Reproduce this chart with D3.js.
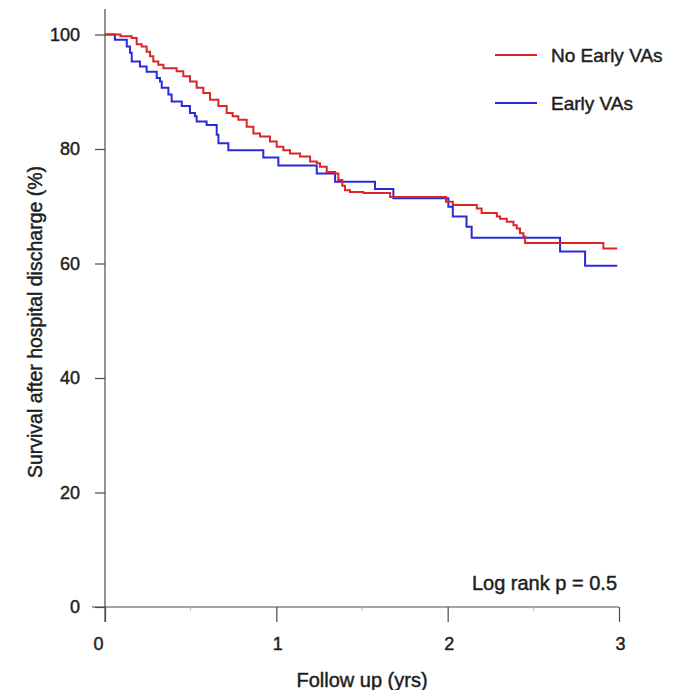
<!DOCTYPE html>
<html>
<head>
<meta charset="utf-8">
<script src="https://cdn.jsdelivr.net/npm/d3@7"></script>
<style>
  body { margin: 0; background: #fff; }
  svg text { font-family: "Liberation Sans", Arial, sans-serif; fill: #1e1e1e; stroke: #1e1e1e; stroke-width: 0.45px; }
</style>
</head>
<body>
<svg width="685" height="690"></svg>
<script>
// Kaplan-Meier steps (time in years, survival in %)
const timesNoEarly = [0, 0.09, 0.156, 0.185, 0.214, 0.243, 0.263, 0.282, 0.311, 0.341, 0.418, 0.457, 0.496, 0.535, 0.574, 0.613, 0.662, 0.710, 0.745, 0.778, 0.827, 0.866, 0.905, 0.963, 1.002, 1.041, 1.080, 1.138, 1.197, 1.236, 1.255, 1.294, 1.343, 1.362, 1.385, 1.401, 1.430, 1.508, 1.664, 1.99, 2.03, 2.17, 2.198, 2.287, 2.306, 2.345, 2.384, 2.403, 2.422, 2.442, 2.452, 2.909, 2.99]
const survNoEarly = [100, 99.7, 99.4, 98.3, 97.9, 97.0, 96.2, 95.3, 94.7, 94.1, 93.6, 92.7, 91.8, 90.7, 89.8, 88.6, 87.5, 86.3, 85.7, 85.1, 83.9, 82.7, 82.2, 81.3, 80.4, 79.8, 79.2, 78.7, 77.8, 77.5, 76.9, 76.0, 75.7, 74.6, 73.6, 72.8, 72.5, 72.3, 71.6, 70.8, 70.2, 69.6, 68.8, 68.2, 67.8, 67.3, 66.7, 66.1, 65.3, 64.7, 63.6, 62.6, 62.6]

const timesEarly = [0, 0.058, 0.127, 0.146, 0.156, 0.204, 0.243, 0.302, 0.321, 0.331, 0.370, 0.389, 0.448, 0.496, 0.525, 0.535, 0.593, 0.652, 0.662, 0.72, 0.924, 1.012, 1.236, 1.343, 1.576, 1.683, 2.004, 2.03, 2.11, 2.14, 2.656, 2.802, 2.99]
const survEarly = [100, 99.1, 97.9, 96.8, 95.3, 94.4, 93.5, 92.4, 91.8, 90.7, 89.5, 88.3, 87.5, 86.3, 85.7, 84.8, 84.2, 82.5, 81.0, 79.8, 78.5, 77.1, 75.7, 74.3, 73.0, 71.4, 69.9, 68.2, 66.4, 64.5, 62.1, 59.6, 59.6]

const xTicks = [0, 1, 2, 3]
const xMinorTicks = [0.5, 1.5, 2.5]
const yTicks = [0, 20, 40, 60, 80, 100]
const seriesNames = ["No Early VAs", "Early VAs"]
const seriesColors = ["#d92626", "#2a2ad9"]

const svg = d3.select("svg")

const x = d3.scaleLinear().domain([0, 3]).range([105, 619])
const y = d3.scaleLinear().domain([0, 100]).range([607, 34.5])

// axis lines
svg.append("line")
  .attr("x1", 105).attr("x2", 105).attr("y1", 9).attr("y2", 622)
  .attr("stroke", "#4a4a4a").attr("stroke-width", 1.2)
svg.append("line")
  .attr("x1", 92).attr("x2", x(3)).attr("y1", y(0)).attr("y2", y(0))
  .attr("stroke", "#4a4a4a").attr("stroke-width", 1.2)

const yAxis = svg.append("g")
  .attr("transform", "translate(105,0)")
  .call(d3.axisLeft(y).tickValues(yTicks).tickSize(10).tickPadding(15))
yAxis.select(".domain").remove()
yAxis.selectAll("line").attr("stroke", "#4a4a4a").attr("stroke-width", 1.2)
yAxis.selectAll("text")
  .style("font-size", "18px")
  .style("font-family", "'Liberation Sans', Arial, sans-serif")

const xAxis = svg.append("g")
  .attr("transform", `translate(0,${y(0)})`)
  .call(d3.axisBottom(x).tickValues(xTicks).tickSize(15).tickPadding(15).tickFormat(d3.format("d")))
xAxis.select(".domain").remove()
xAxis.selectAll("line").attr("stroke", "#4a4a4a").attr("stroke-width", 1.2)
xAxis.selectAll("text")
  .style("font-size", "18px")
  .style("font-family", "'Liberation Sans', Arial, sans-serif")
  .attr("dx", d => d === 0 ? -7 : 1)

// faint minor ticks
svg.selectAll(".minor").data(xMinorTicks).enter().append("line")
  .attr("class", "minor")
  .attr("x1", d => x(d)).attr("x2", d => x(d))
  .attr("y1", y(0)).attr("y2", y(0) + 4)
  .attr("stroke", "#bbb")

// curves
const line = d3.line()
  .x(d => x(d[0]))
  .y(d => y(d[1]))
  .curve(d3.curveStepAfter)

const noEarly = timesNoEarly.map((t, i) => [t, survNoEarly[i]])
const early = timesEarly.map((t, i) => [t, survEarly[i]])

svg.append("path").datum(early)
  .attr("d", line).attr("fill", "none")
  .attr("stroke", seriesColors[1]).attr("stroke-width", 2)
svg.append("path").datum(noEarly)
  .attr("d", line).attr("fill", "none")
  .attr("stroke", seriesColors[0]).attr("stroke-width", 2)

// legend
const legendY = [55, 103]
seriesNames.forEach((name, i) => {
  svg.append("line")
    .attr("x1", 495).attr("x2", 537).attr("y1", legendY[i]).attr("y2", legendY[i])
    .attr("stroke", seriesColors[i]).attr("stroke-width", 2)
  svg.append("text")
    .attr("x", 551).attr("y", legendY[i]).attr("dy", "0.35em")
    .style("font-size", "19px")
    .text(name)
})

svg.append("text")
  .attr("x", 617).attr("y", 583).attr("dy", "0.35em")
  .attr("text-anchor", "end")
  .style("font-size", "20px")
  .text("Log rank p = 0.5")

// axis titles
svg.append("text")
  .attr("x", 362).attr("y", 680).attr("dy", "0.35em")
  .attr("text-anchor", "middle")
  .style("font-size", "20px")
  .text("Follow up (yrs)")

svg.append("text")
  .attr("transform", "translate(35,322) rotate(-90)")
  .attr("dy", "0.35em")
  .attr("text-anchor", "middle")
  .style("font-size", "19.5px")
  .text("Survival after hospital discharge (%)")
</script>
</body>
</html>
